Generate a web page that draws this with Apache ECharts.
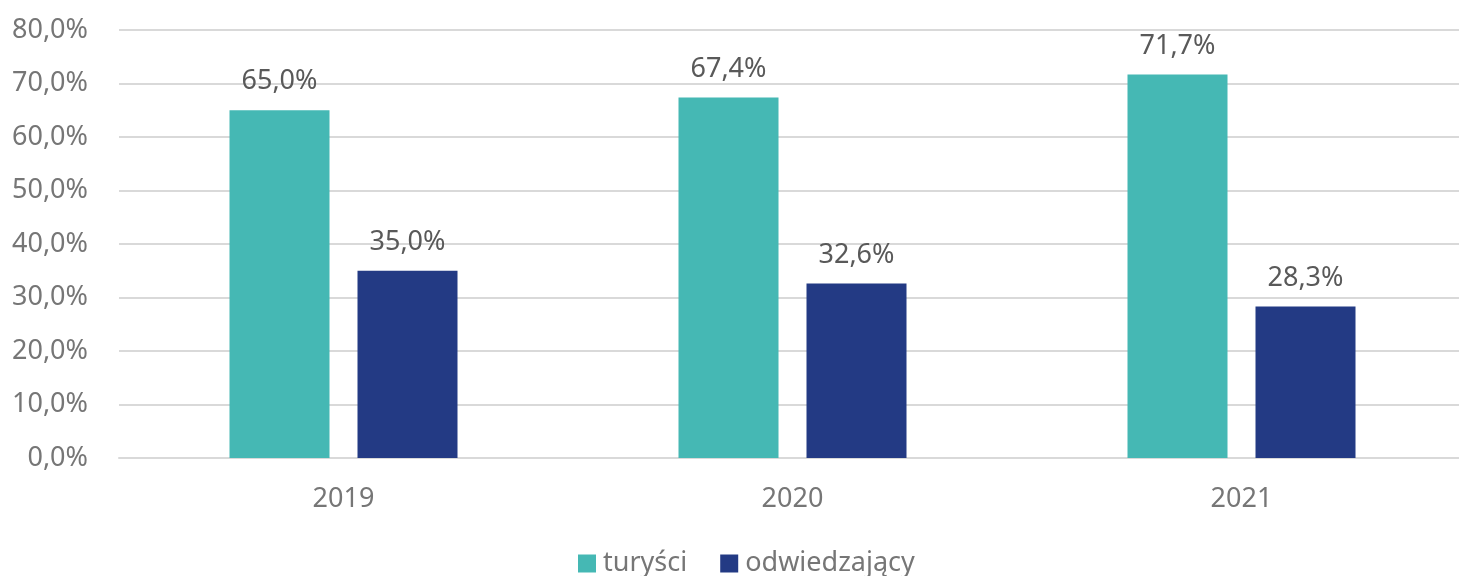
<!DOCTYPE html>
<html>
<head>
<meta charset="utf-8">
<script src="https://cdn.jsdelivr.net/npm/echarts@6/dist/echarts.min.js"></script>
<style>
  html, body { margin: 0; padding: 0; background: #fff; }
  #main { width: 1459px; height: 576px; }
</style>
</head>
<body>
<div id="main"></div>
<script>
var years = ['2019', '2020', '2021']
var turysci = [65.0, 67.4, 71.7]
var odwiedzajacy = [35.0, 32.6, 28.3]
var seriesNames = ['turyści', 'odwiedzający']
var myColor = ['#45B8B4', '#233A84']

;(function () {
    var myChart = echarts.init(document.querySelector('#main'))
    var font = '"Noto Sans", sans-serif'
    // format like 65,0%
    function pct(v) {
        return v.toFixed(1).replace('.', ',') + '%'
    }
    var option = {
        animation: false,
        textStyle: { fontFamily: font },
        grid: {
            left: 119, top: 30, width: 1347, height: 428,
            containLabel: false, outerBoundsMode: 'none'
        },
        legend: {
            data: seriesNames,
            top: 550,
            left: 578,
            padding: 0,
            itemWidth: 18,
            itemHeight: 18,
            itemGap: 33,
            icon: 'rect',
            textStyle: { fontFamily: font, fontSize: 27, color: '#767676', padding: [0, 0, 0, 2] }
        },
        xAxis: {
            type: 'category',
            data: years,
            axisLine: { lineStyle: { color: '#d9d9d9', width: 2 } },
            axisTick: { show: false },
            axisLabel: { fontFamily: font, fontSize: 27, color: '#767676', margin: 28 }
        },
        yAxis: {
            type: 'value',
            min: 0,
            max: 80,
            interval: 10,
            axisLine: { show: false },
            axisTick: { show: false },
            splitLine: { lineStyle: { color: '#d9d9d9', width: 2 } },
            axisLabel: {
                fontFamily: font, fontSize: 27, color: '#767676', margin: 31,
                formatter: function (v) { return pct(v) }
            }
        },
        series: [
            {
                name: seriesNames[0],
                type: 'bar',
                data: turysci,
                barWidth: 100,
                barGap: '28%',
                itemStyle: { color: myColor[0] },
                label: {
                    show: true, position: 'top', distance: 15,
                    fontFamily: font, fontSize: 27, color: '#595959',
                    formatter: function (p) { return pct(p.value) }
                }
            },
            {
                name: seriesNames[1],
                type: 'bar',
                data: odwiedzajacy,
                barWidth: 100,
                barGap: '28%',
                itemStyle: { color: myColor[1] },
                label: {
                    show: true, position: 'top', distance: 15,
                    fontFamily: font, fontSize: 27, color: '#595959',
                    formatter: function (p) { return pct(p.value) }
                }
            }
        ]
    }
    myChart.setOption(option)
    window.addEventListener('resize', function () {
        myChart.resize()
    })
})()
</script>
</body>
</html>
